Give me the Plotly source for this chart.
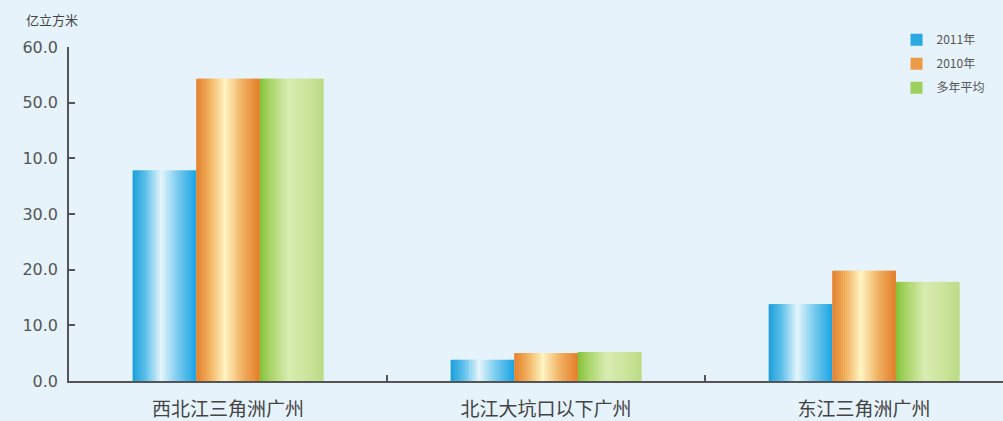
"""Water resource comparison bar chart (亿立方米) recreated with Plotly."""

import plotly.graph_objects as go

# categories and series values
categories = ["西北江三角洲广州", "北江大坑口以下广州", "东江三角洲广州"]
series_names = ["2011年", "2010年", "多年平均"]
val_2011 = [37.8, 3.8, 13.8]
val_2010 = [54.3, 5.0, 19.8]
val_avg = [54.3, 5.2, 17.8]

y_tickvals = [0, 10, 20, 30, 40, 50, 60]
y_ticktext = ["0.0", "10.0", "20.0", "30.0", "10.0", "50.0", "60.0"]

FONT = "Noto Sans CJK SC, Noto Sans, sans-serif"
BG = "#e6f3fb"

# horizontal gradient stops (position across the bar, colour)
GRADIENTS = [
    [(0.0, "#1b9edb"), (0.2, "#5cbfea"), (0.45, "#e4f5fc"), (0.7, "#7ccdf0"), (1.0, "#1aa4e3")],
    [(0.0, "#e4802b"), (0.22, "#f2b463"), (0.45, "#fff4c2"), (0.72, "#f1b163"), (1.0, "#e47e29")],
    [(0.0, "#84c139"), (0.15, "#a6d364"), (0.45, "#d8ecb1"), (0.75, "#cce49c"), (1.0, "#bcdb85")],
]
LEGEND_COLORS = ["#2aa8e2", "#ec9a45", "#9fcf5c"]

BAR_W = 0.2      # width of a single bar in category units
N_STRIPES = 30   # stripes used to fake the gradient


def _hex(c):
    c = c.lstrip("#")
    return tuple(int(c[i:i + 2], 16) for i in (0, 2, 4))


def _grad_color(stops, t):
    for (p0, c0), (p1, c1) in zip(stops, stops[1:]):
        if p0 <= t <= p1:
            f = (t - p0) / (p1 - p0) if p1 > p0 else 0
            a, b = _hex(c0), _hex(c1)
            r, g, bl = (round(a[i] + (b[i] - a[i]) * f) for i in range(3))
            return f"rgb({r},{g},{bl})"
    return stops[-1][1]


fig = go.Figure()

all_values = [val_2011, val_2010, val_avg]
for s, (name, values) in enumerate(zip(series_names, all_values)):
    start = -1.5 * BAR_W + s * BAR_W
    sw = BAR_W / N_STRIPES
    for k in range(N_STRIPES):
        t = (k + 0.5) / N_STRIPES
        # stripes overlap the next one to hide seams
        w = sw if k == N_STRIPES - 1 else sw * 2
        fig.add_trace(go.Bar(
            x=categories, y=values,
            offset=start + k * sw, width=w,
            marker=dict(color=_grad_color(GRADIENTS[s], t), line=dict(width=0)),
            showlegend=False, hoverinfo="skip", legendgroup=name,
        ))
    # legend entry
    fig.add_trace(go.Bar(
        x=[None], y=[None], name=name, legendgroup=name,
        marker=dict(color=LEGEND_COLORS[s], line=dict(width=0)),
        showlegend=True,
    ))

fig.add_annotation(
    text="亿立方米", xref="paper", yref="paper", x=-0.048, y=1.083,
    xanchor="left", yanchor="middle", showarrow=False,
    font=dict(family=FONT, size=13, color="#444444"),
)

fig.update_layout(
    width=1003, height=421,
    margin=dict(l=69, r=0, t=47, b=40),
    paper_bgcolor=BG, plot_bgcolor=BG,
    barmode="overlay",
    font=dict(family=FONT, color="#555555"),
    legend=dict(
        x=0.886, y=1.065, xanchor="left", yanchor="top",
        bgcolor="rgba(0,0,0,0)", font=dict(size=12, color="#555555"),
        tracegroupgap=5, itemwidth=30,
    ),
    xaxis=dict(
        type="category", range=[-0.5, 2.437],
        showline=True, linecolor="#555555", linewidth=1.5,
        ticks="inside", ticklen=6, tickcolor="#555555", tickwidth=1.5,
        tickson="boundaries", showgrid=False,
        tickfont=dict(family=FONT, size=19, color="#444444"),
        ticklabelstandoff=10,
    ),
    yaxis=dict(
        range=[0, 60], tickvals=y_tickvals, ticktext=y_ticktext,
        showline=True, linecolor="#555555", linewidth=1.5,
        ticks="inside", ticklen=6, tickcolor="#555555", tickwidth=1.5,
        showgrid=False, zeroline=False,
        tickfont=dict(family="DejaVu Sans, sans-serif", size=16, color="#555555"),
        ticklabelstandoff=6,
    ),
)

fig.write_html(
    "out.html",
    config={"displayModeBar": False},
    post_script=f"document.body.style.margin='0';document.body.style.background='{BG}';",
)
